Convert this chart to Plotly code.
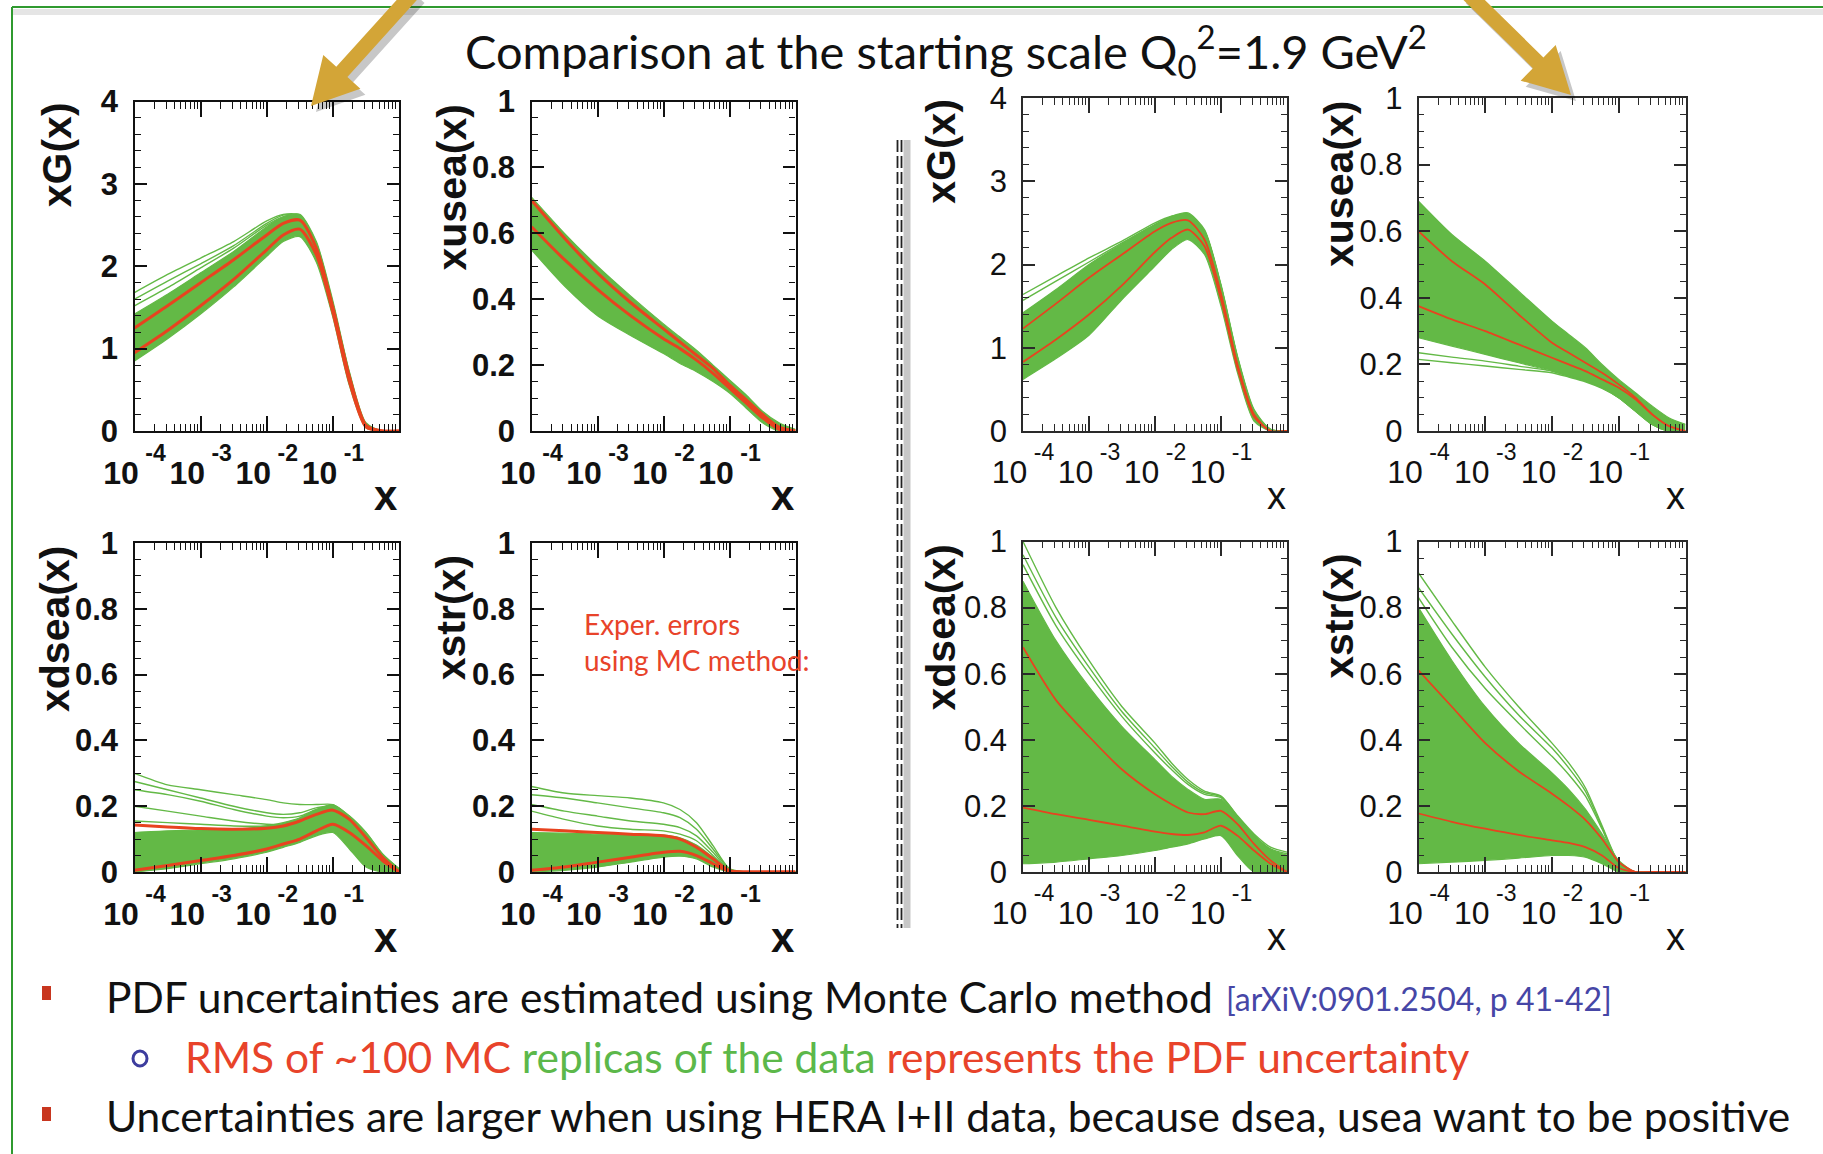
import plotly.graph_objects as go

W, H = 1823, 1154

# ---------------- data ----------------
LOG10_X = [-4.0, -3.5, -3.0, -2.5, -2.0, -1.75, -1.5, -1.25, -1.0, -0.75, -0.5, -0.25, 0.0]
X_TICKVALS = [1e-4, 1e-3, 1e-2, 1e-1]
X_TICK_MANTISSA = ["10", "10", "10", "10"]
X_TICK_EXPONENT = ["-4", "-3", "-2", "-1"]

# Left group (HERA I) -- xG
xg_L_band_lo = [0.85, 1.12, 1.42, 1.75, 2.12, 2.30, 2.36, 2.05, 1.38, 0.55, 0.04, 0.0, 0.0]
xg_L_band_hi = [1.42, 1.66, 1.92, 2.18, 2.48, 2.60, 2.63, 2.30, 1.58, 0.72, 0.10, 0.0, 0.0]
xg_L_red_up = [1.25, 1.52, 1.80, 2.08, 2.38, 2.52, 2.56, 2.22, 1.50, 0.66, 0.07, 0.0, 0.0]
xg_L_red_lo = [0.95, 1.22, 1.52, 1.84, 2.20, 2.38, 2.45, 2.14, 1.44, 0.60, 0.05, 0.0, 0.0]
xg_L_replicas = [
    [1.68, 1.90, 2.10, 2.30, 2.55, 2.63, 2.62, 2.28, 1.55, 0.70, 0.08, 0.0, 0.0],
    [1.60, 1.82, 2.03, 2.25, 2.52, 2.62, 2.60, 2.26, 1.54, 0.68, 0.08, 0.0, 0.0],
    [1.52, 1.74, 1.98, 2.22, 2.50, 2.60, 2.60, 2.25, 1.52, 0.68, 0.08, 0.0, 0.0],
]
# Left group -- xusea
xu_L_band_lo = [0.55, 0.44, 0.35, 0.29, 0.235, 0.205, 0.18, 0.15, 0.115, 0.07, 0.025, 0.0, 0.0]
xu_L_band_hi = [0.71, 0.60, 0.50, 0.41, 0.325, 0.285, 0.245, 0.20, 0.155, 0.11, 0.06, 0.025, 0.005]
xu_L_red_up = [0.70, 0.585, 0.48, 0.39, 0.31, 0.27, 0.23, 0.19, 0.14, 0.095, 0.05, 0.012, 0.0]
xu_L_red_lo = [0.62, 0.52, 0.43, 0.35, 0.28, 0.25, 0.215, 0.175, 0.13, 0.085, 0.04, 0.005, 0.0]
xu_L_replicas = []
# Left group -- xdsea
xd_L_band_lo = [0.0, 0.01, 0.025, 0.04, 0.06, 0.075, 0.09, 0.11, 0.12, 0.07, 0.015, 0.0, 0.0]
xd_L_band_hi = [0.12, 0.125, 0.128, 0.13, 0.14, 0.15, 0.165, 0.19, 0.205, 0.17, 0.12, 0.055, 0.01]
xd_L_red_up = [0.143, 0.137, 0.132, 0.13, 0.133, 0.14, 0.155, 0.175, 0.188, 0.16, 0.105, 0.045, 0.0]
xd_L_red_lo = [0.005, 0.02, 0.035, 0.05, 0.07, 0.085, 0.10, 0.125, 0.145, 0.12, 0.08, 0.035, 0.0]
xd_L_replicas = [
    [0.300, 0.265, 0.250, 0.235, 0.220, 0.210, 0.205, 0.205, 0.205, 0.170, 0.120, 0.055, 0.010],
    [0.275, 0.250, 0.225, 0.200, 0.180, 0.175, 0.180, 0.195, 0.200, 0.165, 0.115, 0.050, 0.008],
    [0.250, 0.235, 0.215, 0.190, 0.170, 0.165, 0.170, 0.190, 0.200, 0.165, 0.110, 0.050, 0.008],
    [0.200, 0.185, 0.170, 0.155, 0.145, 0.145, 0.155, 0.180, 0.195, 0.160, 0.110, 0.050, 0.005],
    [0.155, 0.150, 0.145, 0.140, 0.140, 0.145, 0.155, 0.180, 0.195, 0.160, 0.105, 0.045, 0.005],
]
# Left group -- xstr
xs_L_band_lo = [0.0, 0.005, 0.015, 0.03, 0.045, 0.048, 0.04, 0.015, 0.0, 0.0, 0.0, 0.0, 0.0]
xs_L_band_hi = [0.12, 0.118, 0.115, 0.114, 0.112, 0.104, 0.082, 0.045, 0.006, 0.0, 0.0, 0.0, 0.0]
xs_L_red_up = [0.13, 0.125, 0.12, 0.115, 0.11, 0.10, 0.075, 0.04, 0.004, 0.0, 0.0, 0.0, 0.0]
xs_L_red_lo = [0.005, 0.015, 0.03, 0.045, 0.06, 0.063, 0.05, 0.025, 0.002, 0.0, 0.0, 0.0, 0.0]
xs_L_replicas = [
    [0.260, 0.240, 0.232, 0.225, 0.210, 0.190, 0.150, 0.080, 0.010, 0.0, 0.0, 0.0, 0.0],
    [0.235, 0.225, 0.210, 0.195, 0.180, 0.165, 0.130, 0.070, 0.008, 0.0, 0.0, 0.0, 0.0],
    [0.205, 0.185, 0.170, 0.155, 0.145, 0.135, 0.110, 0.060, 0.005, 0.0, 0.0, 0.0, 0.0],
    [0.185, 0.160, 0.140, 0.130, 0.125, 0.115, 0.095, 0.050, 0.004, 0.0, 0.0, 0.0, 0.0],
]

# Right group (HERA I+II) -- xG
xg_R_band_lo = [0.62, 0.87, 1.15, 1.58, 1.98, 2.18, 2.30, 2.12, 1.50, 0.70, 0.12, 0.0, 0.0]
xg_R_band_hi = [1.42, 1.70, 2.00, 2.25, 2.48, 2.58, 2.62, 2.42, 1.76, 0.90, 0.26, 0.02, 0.0]
xg_R_red_up = [1.23, 1.53, 1.84, 2.12, 2.40, 2.50, 2.53, 2.30, 1.65, 0.80, 0.20, 0.0, 0.0]
xg_R_red_lo = [0.83, 1.10, 1.40, 1.75, 2.15, 2.32, 2.42, 2.22, 1.58, 0.75, 0.17, 0.0, 0.0]
xg_R_replicas = [
    [1.64, 1.86, 2.08, 2.28, 2.50, 2.58, 2.60, 2.40, 1.74, 0.88, 0.24, 0.02, 0.0],
    [1.57, 1.80, 2.03, 2.26, 2.48, 2.57, 2.60, 2.40, 1.74, 0.88, 0.24, 0.02, 0.0],
]
# Right group -- xusea
xu_R_band_lo = [0.28, 0.255, 0.23, 0.205, 0.18, 0.165, 0.15, 0.13, 0.10, 0.06, 0.02, 0.0, 0.0]
xu_R_band_hi = [0.69, 0.59, 0.51, 0.42, 0.33, 0.29, 0.25, 0.20, 0.155, 0.115, 0.075, 0.04, 0.02]
xu_R_red_up = [0.60, 0.51, 0.44, 0.35, 0.265, 0.235, 0.205, 0.175, 0.14, 0.10, 0.05, 0.015, 0.0]
xu_R_red_lo = [0.375, 0.335, 0.30, 0.26, 0.22, 0.20, 0.18, 0.155, 0.13, 0.095, 0.05, 0.015, 0.0]
xu_R_replicas = [
    [0.235, 0.222, 0.210, 0.195, 0.180, 0.165, 0.150, 0.130, 0.100, 0.060, 0.020, 0.0, 0.0],
    [0.215, 0.205, 0.195, 0.185, 0.175, 0.162, 0.148, 0.128, 0.100, 0.060, 0.020, 0.0, 0.0],
]
# Right group -- xdsea
xd_R_band_lo = [0.025, 0.03, 0.04, 0.05, 0.065, 0.075, 0.085, 0.10, 0.11, 0.05, 0.0, 0.0, 0.0]
xd_R_band_hi = [0.88, 0.70, 0.56, 0.44, 0.34, 0.29, 0.25, 0.22, 0.22, 0.165, 0.11, 0.068, 0.05]
xd_R_red_up = [0.68, 0.52, 0.41, 0.31, 0.235, 0.205, 0.18, 0.175, 0.185, 0.145, 0.085, 0.035, 0.0]
xd_R_red_lo = [0.195, 0.175, 0.158, 0.14, 0.122, 0.115, 0.112, 0.12, 0.14, 0.11, 0.065, 0.025, 0.0]
xd_R_replicas = [
    [1.00, 0.80, 0.64, 0.50, 0.39, 0.33, 0.28, 0.245, 0.23, 0.17, 0.115, 0.075, 0.06],
    [0.96, 0.77, 0.62, 0.485, 0.375, 0.32, 0.272, 0.24, 0.228, 0.168, 0.11, 0.07, 0.055],
    [0.93, 0.745, 0.60, 0.47, 0.36, 0.31, 0.265, 0.235, 0.225, 0.166, 0.11, 0.068, 0.05],
]
# Right group -- xstr
xs_R_band_lo = [0.025, 0.03, 0.035, 0.042, 0.05, 0.05, 0.045, 0.025, 0.0, 0.0, 0.0, 0.0, 0.0]
xs_R_band_hi = [0.80, 0.64, 0.50, 0.39, 0.30, 0.25, 0.19, 0.115, 0.035, 0.0, 0.0, 0.0, 0.0]
xs_R_red_up = [0.61, 0.50, 0.39, 0.305, 0.237, 0.20, 0.158, 0.10, 0.03, 0.0, 0.0, 0.0, 0.0]
xs_R_red_lo = [0.177, 0.152, 0.131, 0.112, 0.096, 0.088, 0.075, 0.05, 0.012, 0.0, 0.0, 0.0, 0.0]
xs_R_replicas = [
    [0.905, 0.76, 0.62, 0.50, 0.39, 0.33, 0.255, 0.14, 0.03, 0.0, 0.0, 0.0, 0.0],
    [0.86, 0.72, 0.59, 0.475, 0.375, 0.315, 0.245, 0.135, 0.028, 0.0, 0.0, 0.0, 0.0],
    [0.83, 0.68, 0.555, 0.45, 0.35, 0.295, 0.23, 0.13, 0.025, 0.0, 0.0, 0.0, 0.0],
]

Y_TITLES = ["xG(x)", "xusea(x)", "xdsea(x)", "xstr(x)", "xG(x)", "xusea(x)", "xdsea(x)", "xstr(x)"]

# ---------------- styling / layout ----------------
GREEN = "#63b946"
RED = "#e8431f"
AXFONT = "Liberation Sans, Arial, Helvetica, sans-serif"
TICKFONT = "Liberation Sans, Arial, Helvetica, sans-serif"
SLIDEFONT = "Lato, 'Open Sans', sans-serif"


def px(x):
    return x / W


def py(y):
    return 1 - y / H


# panel boxes in pixels: x0, x1, y0(top), y1(bottom), ymax, left-group?
BOXES = [
    (134.5, 399.0, 101.5, 431.0, 4, True),
    (531.5, 795.5, 101.5, 431.0, 1, True),
    (134.5, 399.0, 543.0, 872.0, 1, True),
    (531.5, 795.5, 543.0, 872.0, 1, True),
    (1023.0, 1287.0, 98.0, 431.0, 4, False),
    (1418.5, 1685.5, 98.0, 431.0, 1, False),
    (1023.0, 1287.0, 541.5, 872.0, 1, False),
    (1418.5, 1685.5, 541.5, 872.0, 1, False),
]
YT_X = [57, 452, 55, 451, 941, 1339, 940, 1339]

PANEL_DATA = [
    (xg_L_band_lo, xg_L_band_hi, xg_L_red_up, xg_L_red_lo, xg_L_replicas),
    (xu_L_band_lo, xu_L_band_hi, xu_L_red_up, xu_L_red_lo, xu_L_replicas),
    (xd_L_band_lo, xd_L_band_hi, xd_L_red_up, xd_L_red_lo, xd_L_replicas),
    (xs_L_band_lo, xs_L_band_hi, xs_L_red_up, xs_L_red_lo, xs_L_replicas),
    (xg_R_band_lo, xg_R_band_hi, xg_R_red_up, xg_R_red_lo, xg_R_replicas),
    (xu_R_band_lo, xu_R_band_hi, xu_R_red_up, xu_R_red_lo, xu_R_replicas),
    (xd_R_band_lo, xd_R_band_hi, xd_R_red_up, xd_R_red_lo, xd_R_replicas),
    (xs_R_band_lo, xs_R_band_hi, xs_R_red_up, xs_R_red_lo, xs_R_replicas),
]

X_VALUES = [10 ** v for v in LOG10_X]
# ROOT-style "10^-n" labels: exponent raised above the mantissa
X_TICKTEXT = [
    f"{m}<sup><sup><span style='font-size:23px'>&nbsp;{e}</span></sup></sup>"
    for m, e in zip(X_TICK_MANTISSA, X_TICK_EXPONENT)
]

fig = go.Figure()
layout = dict(
    width=W, height=H, autosize=False,
    margin=dict(l=0, r=0, t=0, b=0),
    paper_bgcolor="white", plot_bgcolor="white",
    showlegend=False, template="none",
)

annotations = []
shapes = []

for i, (box, data) in enumerate(zip(BOXES, PANEL_DATA)):
    n = i + 1
    xa = "x" if n == 1 else f"x{n}"
    ya = "y" if n == 1 else f"y{n}"
    x0, x1, y0, y1, ymax, left = box
    lo, hi, rup, rlo, reps = data
    lw_red = 3.0 if left else 1.8
    line_shape = dict(shape="spline", smoothing=0.7)

    fig.add_trace(go.Scatter(x=X_VALUES, y=lo, mode="lines", xaxis=xa, yaxis=ya,
                             line=dict(color=GREEN, width=1.2, **line_shape), hoverinfo="skip"))
    fig.add_trace(go.Scatter(x=X_VALUES, y=hi, mode="lines", xaxis=xa, yaxis=ya, fill="tonexty",
                             fillcolor=GREEN, line=dict(color=GREEN, width=1.2, **line_shape),
                             hoverinfo="skip"))
    for rep in reps:
        fig.add_trace(go.Scatter(x=X_VALUES, y=rep, mode="lines", xaxis=xa, yaxis=ya,
                                 line=dict(color=GREEN, width=1.4, **line_shape), hoverinfo="skip"))
    for rl in (rup, rlo):
        fig.add_trace(go.Scatter(x=X_VALUES, y=rl, mode="lines", xaxis=xa, yaxis=ya,
                                 line=dict(color=RED, width=lw_red, **line_shape), hoverinfo="skip"))

    axcol = "#111111" if left else "#2a2a2a"
    axw = 2.4 if left else 1.6
    weight = "bold" if left else "normal"
    xfont = dict(family=TICKFONT, size=32, color="#111111", weight=weight)
    yfont = dict(family=TICKFONT, size=31, color="#111111", weight=weight)
    xkey = "xaxis" if n == 1 else f"xaxis{n}"
    ykey = "yaxis" if n == 1 else f"yaxis{n}"
    layout[xkey] = dict(
        type="log", range=[-4, 0], domain=[px(x0), px(x1)], anchor=ya,
        showline=True, linecolor=axcol, linewidth=axw, mirror="allticks",
        ticks="inside", ticklen=15, tickwidth=1.5, tickcolor=axcol,
        tickmode="array", tickvals=X_TICKVALS, ticktext=X_TICKTEXT,
        tickfont=xfont, ticklabelstandoff=12, tickangle=0,
        minor=dict(ticks="inside", ticklen=7, tickwidth=1.1, tickcolor=axcol, dtick="D1", showgrid=False),
        showgrid=False, zeroline=False, automargin=False, fixedrange=True,
    )
    layout[ykey] = dict(
        range=[0, ymax], domain=[py(y1), py(y0)], anchor=xa,
        showline=True, linecolor=axcol, linewidth=axw, mirror="allticks",
        ticks="inside", ticklen=12, tickwidth=1.5, tickcolor=axcol,
        dtick=1 if ymax == 4 else 0.2, tick0=0,
        tickfont=yfont, ticklabelstandoff=8,
        minor=dict(ticks="inside", ticklen=6, tickwidth=1.1, tickcolor=axcol,
                   dtick=0.2 if ymax == 4 else 0.05, showgrid=False),
        showgrid=False, zeroline=False, automargin=False, fixedrange=True,
    )

    # y-axis title (top aligned, rotated)
    title_len = len(Y_TITLES[i]) * 21.5
    annotations.append(dict(
        text=Y_TITLES[i], xref="paper", yref="paper", x=px(YT_X[i]), y=py(y0 + title_len / 2),
        xanchor="center", yanchor="middle", textangle=-90, showarrow=False,
        font=dict(family=AXFONT, size=41, color="#111111", weight="bold"),
    ))
    # x-axis title
    annotations.append(dict(
        text="x", xref="paper", yref="paper", x=px(x1 + 1), y=py(y1 + 65),
        xanchor="right", yanchor="middle", showarrow=False,
        font=dict(family=AXFONT, size=42 if left else 38, color="#111111", weight=weight),
    ))

# title
annotations.append(dict(
    text="Comparison at the starting scale Q<sub>0</sub><sup>2</sup>=1.9 GeV<sup>2</sup>",
    xref="paper", yref="paper", x=px(946), y=py(52), xanchor="center", yanchor="middle",
    showarrow=False, font=dict(family=SLIDEFONT, size=47, color="#111111"),
))
# red note inside xstr panel
annotations.append(dict(
    text="Exper. errors<br>using MC method:", xref="paper", yref="paper",
    x=px(582), y=py(642), xanchor="left", yanchor="middle", align="left",
    showarrow=False, font=dict(family=SLIDEFONT, size=28, color="#e8432a"),
))
# bottom bullet text
annotations.append(dict(
    text="PDF uncertainties are estimated using Monte Carlo method",
    xref="paper", yref="paper", x=px(104), y=py(996), xanchor="left", yanchor="middle",
    showarrow=False, font=dict(family=SLIDEFONT, size=42.5, color="#111111"),
))
annotations.append(dict(
    text="[arXiV:0901.2504, p 41-42]",
    xref="paper", yref="paper", x=px(1224), y=py(998), xanchor="left", yanchor="middle",
    showarrow=False, font=dict(family=SLIDEFONT, size=32, color="#4646a6"),
))
annotations.append(dict(
    text=("<span style='color:#e8432a'>RMS of ~100 MC </span>"
          "<span style='color:#5cb84a'>replicas of the data </span>"
          "<span style='color:#e8432a'>represents the PDF uncertainty</span>"),
    xref="paper", yref="paper", x=px(183), y=py(1056), xanchor="left", yanchor="middle",
    showarrow=False, font=dict(family=SLIDEFONT, size=42.5, color="#e8432a"),
))
annotations.append(dict(
    text="Uncertainties are larger when using HERA I+II data, because dsea, usea want to be positive",
    xref="paper", yref="paper", x=px(104), y=py(1115), xanchor="left", yanchor="middle",
    showarrow=False, font=dict(family=SLIDEFONT, size=42.5, color="#111111"),
))

# ---------------- decorations ----------------
# slide frame (top + left green border) with faint shadow
shapes.append(dict(type="line", xref="paper", yref="paper", x0=px(12), x1=1, y0=py(12), y1=py(12),
                   line=dict(color="rgba(0,0,0,0.10)", width=6)))
shapes.append(dict(type="line", xref="paper", yref="paper", x0=px(12), x1=1, y0=py(7), y1=py(7),
                   line=dict(color="#2f9a2f", width=2)))
shapes.append(dict(type="line", xref="paper", yref="paper", x0=px(12), x1=px(12), y0=py(7), y1=0,
                   line=dict(color="#2f9a2f", width=2)))

# dashed double separator
shapes.append(dict(type="line", xref="paper", yref="paper", x0=px(907), x1=px(907), y0=py(140), y1=py(928),
                   line=dict(color="rgba(0,0,0,0.22)", width=7)))
for sx in (897.5, 901.5):
    shapes.append(dict(type="line", xref="paper", yref="paper", x0=px(sx), x1=px(sx),
                       y0=py(140), y1=py(928), line=dict(color="#222222", width=1.8, dash="12px,4px")))


def arrow_path(xs, ys, xt, yt, shaft_w, head_w, head_len, off=(0, 0)):
    dx, dy = xt - xs, yt - ys
    L = (dx * dx + dy * dy) ** 0.5
    ux, uy = dx / L, dy / L
    nx, ny = -uy, ux
    bx, by = xt - ux * head_len, yt - uy * head_len
    pts = [
        (xs + nx * shaft_w / 2, ys + ny * shaft_w / 2),
        (bx + nx * shaft_w / 2, by + ny * shaft_w / 2),
        (bx + nx * head_w / 2, by + ny * head_w / 2),
        (xt, yt),
        (bx - nx * head_w / 2, by - ny * head_w / 2),
        (bx - nx * shaft_w / 2, by - ny * shaft_w / 2),
        (xs - nx * shaft_w / 2, ys - ny * shaft_w / 2),
    ]
    s = "M " + " L ".join(f"{px(x + off[0]):.5f} {py(y + off[1]):.5f}" for x, y in pts) + " Z"
    return s


for (xs, ys, xt, yt) in [(414, -8, 311, 106), (1466, -8, 1571, 95)]:
    shapes.append(dict(type="path", xref="paper", yref="paper",
                       path=arrow_path(xs, ys, xt, yt, 15, 50, 46, off=(5, 6)),
                       fillcolor="rgba(0,0,0,0.22)", line=dict(width=0)))
    shapes.append(dict(type="path", xref="paper", yref="paper",
                       path=arrow_path(xs, ys, xt, yt, 15, 50, 46),
                       fillcolor="#d3a537", line=dict(width=0)))

# bullets
for by in (993, 1114):
    shapes.append(dict(type="rect", xref="paper", yref="paper", x0=px(42), x1=px(51),
                       y0=py(by - 7), y1=py(by + 7), fillcolor="#c8361f", line=dict(width=0)))
shapes.append(dict(type="circle", xref="paper", yref="paper", x0=px(133), x1=px(147),
                   y0=py(1051), y1=py(1066), line=dict(color="#3d3d9e", width=3)))

layout["annotations"] = annotations
layout["shapes"] = shapes
fig.update_layout(**layout)

fig.write_html("out.html")
